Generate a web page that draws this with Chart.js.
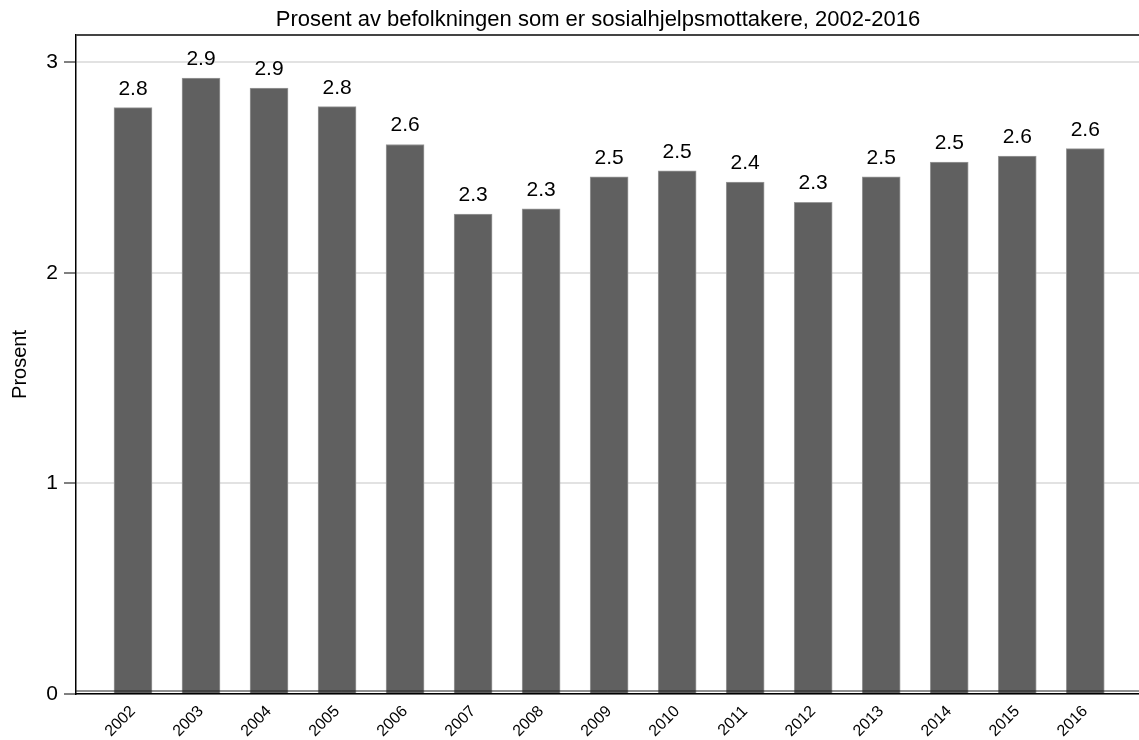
<!DOCTYPE html>
<html>
<head>
<meta charset="utf-8">
<script src="https://cdn.jsdelivr.net/npm/chart.js@4/dist/chart.umd.min.js"></script>
<style>
  html, body { margin: 0; padding: 0; background: #fff; }
  #wrap { width: 1139px; height: 740px; }
</style>
</head>
<body>
<div id="wrap"><canvas id="chart" width="1139" height="740"></canvas></div>
<script>
const years = [2002, 2003, 2004, 2005, 2006, 2007, 2008, 2009, 2010, 2011, 2012, 2013, 2014, 2015, 2016];
const prosent = [2.785, 2.925, 2.878, 2.79, 2.61, 2.28, 2.304, 2.456, 2.485, 2.432, 2.335, 2.456, 2.527, 2.555, 2.59];
const yTicks = [0, 1, 2, 3];
const titleText = 'Prosent av befolkningen som er sosialhjelpsmottakere, 2002-2016';

const font = 'Liberation Sans, Arial, sans-serif';

// title, value labels above bars, plus frame lines
const barLabels = {
  id: 'barLabels',
  afterDatasetsDraw(chart) {
    const ctx = chart.ctx;
    const a = chart.chartArea;
    ctx.save();
    ctx.strokeStyle = '#444';
    ctx.lineWidth = 2;
    ctx.beginPath();
    ctx.moveTo(a.left, a.top);
    ctx.lineTo(a.right, a.top);
    ctx.stroke();
    ctx.strokeStyle = '#222';
    ctx.lineWidth = 1;
    ctx.beginPath();
    ctx.moveTo(a.left, a.bottom - 3);
    ctx.lineTo(a.right, a.bottom - 3);
    ctx.stroke();
    ctx.fillStyle = '#000';
    ctx.textAlign = 'center';
    ctx.textBaseline = 'alphabetic';
    ctx.font = '22px ' + font;
    ctx.fillText(titleText, 598, 26);
    ctx.font = '21px ' + font;
    chart.getDatasetMeta(0).data.forEach((bar, i) => {
      ctx.fillText(prosent[i].toFixed(1), bar.x, bar.y - 13);
    });
    ctx.restore();
  }
};

new Chart(document.getElementById('chart'), {
  type: 'bar',
  data: {
    datasets: [{
      data: years.map((y, i) => ({ x: y, y: prosent[i] })),
      backgroundColor: '#606060',
      borderColor: '#9a9a9a',
      borderWidth: 1,
      barThickness: 38
    }]
  },
  options: {
    responsive: false,
    animation: false,
    layout: { padding: { left: 0, right: 0, top: 35, bottom: 0 } },
    plugins: {
      legend: { display: false },
      tooltip: { enabled: false },
      title: { display: false }
    },
    scales: {
      x: {
        type: 'linear',
        offset: false,
        min: 2001.162,
        max: 2016.79,
        grid: { display: false },
        border: { display: true, color: '#000', width: 1.5 },
        afterBuildTicks: axis => { axis.ticks = years.map(v => ({ value: v })); },
        afterFit: scale => { scale.height = 46; },
        ticks: {
          color: '#000',
          font: { family: font, size: 16 },
          minRotation: 45,
          maxRotation: 45,
          padding: 0,
          callback: v => String(v)
        }
      },
      y: {
        min: 0,
        max: 3.13,
        afterBuildTicks: axis => { axis.ticks = yTicks.map(v => ({ value: v })); },
        afterFit: scale => { scale.width = 76; },
        grid: { color: '#e2e2e2', lineWidth: 2, tickLength: 12, tickColor: '#000', tickWidth: 1 },
        border: { display: true, color: '#000', width: 1.5 },
        title: {
          display: true,
          text: 'Prosent',
          color: '#000',
          font: { family: font, size: 20 },
          padding: { top: 8, bottom: 0 }
        },
        ticks: {
          color: '#000',
          font: { family: font, size: 21 },
          padding: 6
        }
      }
    }
  },
  plugins: [barLabels]
});
</script>
</body>
</html>
